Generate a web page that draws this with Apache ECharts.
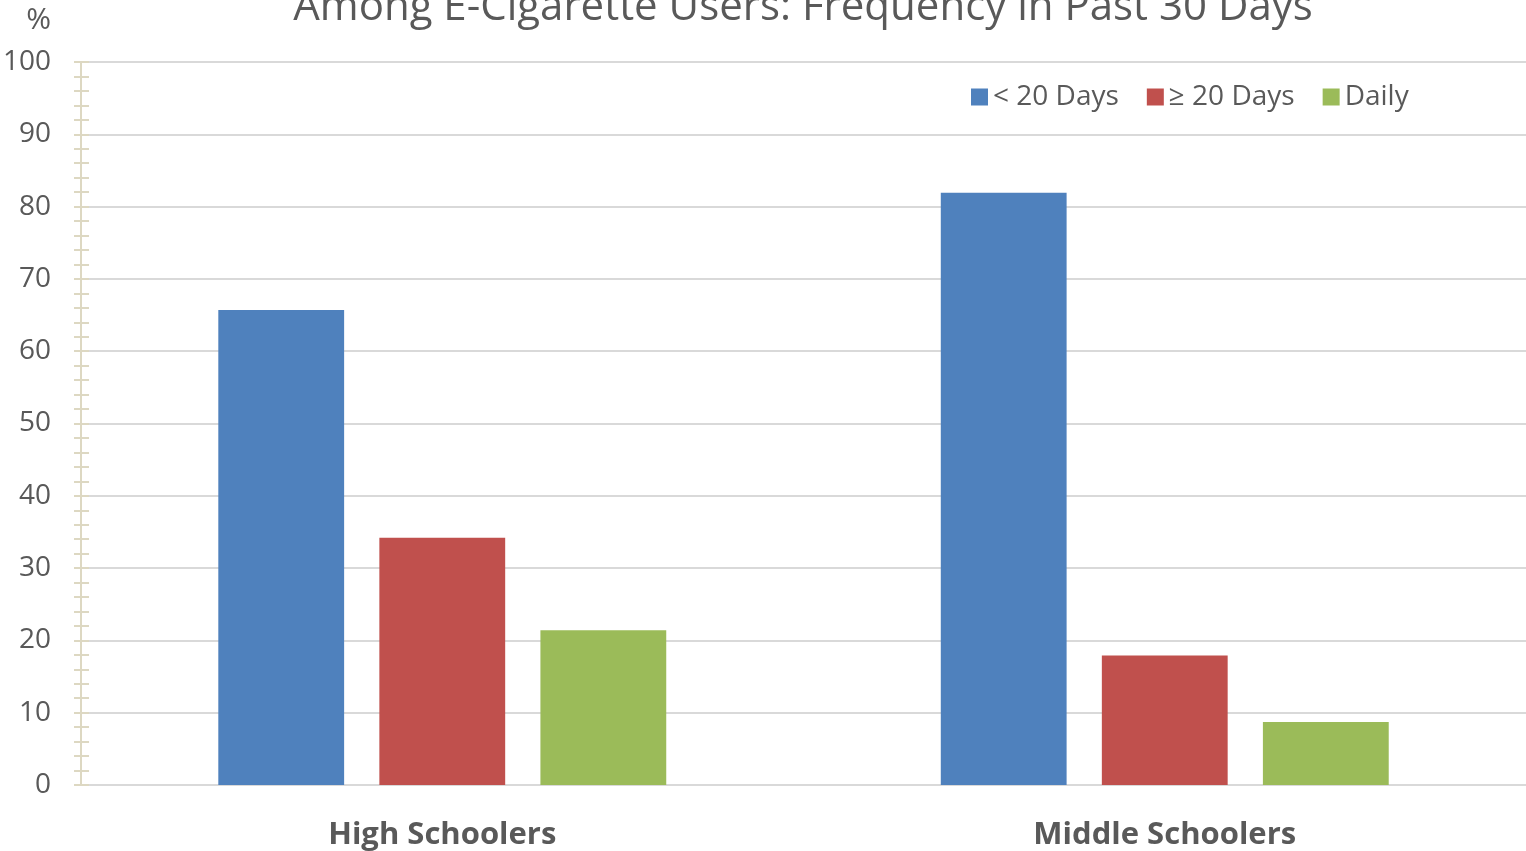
<!DOCTYPE html>
<html>
<head>
<meta charset="utf-8">
<script src="https://cdn.jsdelivr.net/npm/echarts@6/dist/echarts.min.js"></script>
<style>
  html, body { margin: 0; padding: 0; background: #fff; }
  #chart { width: 1526px; height: 851px; }
</style>
</head>
<body>
<div id="chart"></div>
<script>
// Share of youth e-cigarette users by number of days used in the past 30 days
const categories = ['High Schoolers', 'Middle Schoolers'];
const seriesNames = ['< 20 Days', '≥ 20 Days', 'Daily'];
const lessThan20 = [65.7, 81.9];
const atLeast20 = [34.2, 17.9];
const daily = [21.4, 8.7];
const yTicks = [0, 10, 20, 30, 40, 50, 60, 70, 80, 90, 100];

const colors = ['#4f81bd', '#c0504d', '#9bbb59'];
const textColor = '#595959';
const axisTan = '#ddd8c2';
const font = '"Open Sans", "Noto Sans", sans-serif';

const chart = echarts.init(document.getElementById('chart'), null, { renderer: 'canvas' });

const tickAxisBase = {
  type: 'value',
  min: yTicks[0],
  max: yTicks[yTicks.length - 1],
  interval: yTicks[1] - yTicks[0],
  position: 'left',
  splitLine: { show: false },
  axisLine: { show: true, lineStyle: { color: axisTan, width: 2 } }
};

chart.setOption({
  animation: false,
  color: colors,
  title: {
    text: 'Among E-Cigarette Users: Frequency in Past 30 Days',
    left: 798,
    textAlign: 'center',
    top: -18,
    textStyle: { fontFamily: font, fontSize: 42, fontWeight: 'normal', color: textColor }
  },
  legend: {
    data: seriesNames,
    left: 966,
    top: 78,
    itemWidth: 17,
    itemHeight: 17,
    itemGap: 28,
    icon: 'rect',
    textStyle: { fontFamily: font, fontSize: 28, color: textColor, padding: [0, 0, 0, 0] }
  },
  grid: { left: 80, right: 0, top: 62, bottom: 66, containLabel: false },
  xAxis: {
    type: 'category',
    data: categories,
    axisLine: { show: true, lineStyle: { color: '#d9d9d9', width: 2 } },
    axisTick: { show: false },
    axisLabel: {
      fontFamily: font, fontSize: 31, fontWeight: 'bold', color: textColor, margin: 35
    }
  },
  yAxis: [
    Object.assign({}, tickAxisBase, {
      name: '%',
      nameLocation: 'end',
      nameGap: 27,
      nameTextStyle: {
        fontFamily: font, fontSize: 30, color: textColor,
        align: 'right', padding: [0, 30, 0, 0]
      },
      axisTick: { show: true, length: 7, lineStyle: { color: axisTan, width: 2 } },
      minorTick: { show: true, splitNumber: 5, length: 7, lineStyle: { color: axisTan, width: 2 } },
      splitLine: { show: true, lineStyle: { color: '#d9d9d9', width: 2 } },
      axisLabel: { fontFamily: font, fontSize: 28, color: textColor, margin: 30 }
    }),
    Object.assign({}, tickAxisBase, {
      axisTick: { show: true, inside: true, length: 8, lineStyle: { color: axisTan, width: 2 } },
      minorTick: { show: true, splitNumber: 5, length: 8, lineStyle: { color: axisTan, width: 2 } },
      axisLabel: { show: false }
    })
  ],
  series: [
    { name: seriesNames[0], type: 'bar', data: lessThan20, barGap: '28%', barCategoryGap: '38%' },
    { name: seriesNames[1], type: 'bar', data: atLeast20, barGap: '28%', barCategoryGap: '38%' },
    { name: seriesNames[2], type: 'bar', data: daily, barGap: '28%', barCategoryGap: '38%' }
  ]
});
</script>
</body>
</html>
